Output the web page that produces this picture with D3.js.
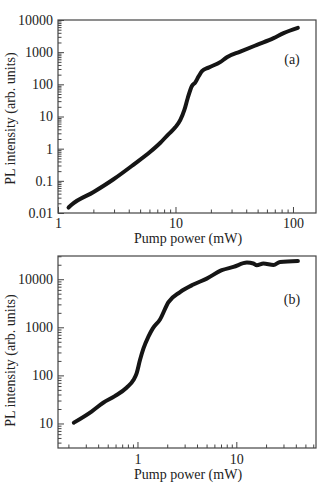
<!DOCTYPE html>
<html><head><meta charset="utf-8">
<script src="https://cdn.jsdelivr.net/npm/d3@7"></script>
<style>
html,body{margin:0;padding:0;background:#fff;}
svg{display:block;}
svg text{font-family:"Liberation Serif","Times New Roman",Times,"DejaVu Serif",serif !important;fill:#222;}
</style></head>
<body>
<script>
// Panel (a)
const aPower = [1.23,1.32,2.01,2.97,4.4,6.1,7.4,8.7,9.96,11,11.9,12.7,13.8,14.7,15.7,16.8,19.1,24,27.4,35.6,49.4,68.4,83.2,110];
const aIntensity = [0.0148,0.0187,0.045,0.112,0.32,0.8,1.5,2.8,4.6,7.8,16,37,89,113,174,257,331,490,697,1040,1690,2720,3900,5700];
const aYTicks = [0.01,0.1,1,10,100,1000,10000];
const aXTicks = [1,10,100];
// Panel (b)
const bPower = [0.227,0.343,0.45,0.59,0.78,0.91,0.98,1.06,1.15,1.29,1.43,1.69,2.05,2.7,3.68,5.02,7.13,9.35,12.8,14.9,16.1,18.8,23.8,27.8,42];
const bIntensity = [10.4,17.7,27,37,56,80,110,208,363,640,950,1450,3300,5400,7750,10300,15400,18000,22200,21200,19500,21200,19800,22900,24000];
const bYTicks = [10,100,1000,10000];
const bXTicks = [1,10];

const W = 332, H = 487;
const FONT = '"Liberation Serif","Times New Roman",Times,serif';
const svg = d3.select("body").append("svg").attr("width", W).attr("height", H).attr("font-family", FONT);

function panel(cfg){
  const g = svg.append("g");
  const x = d3.scaleLog().domain(cfg.xd).range([cfg.l, cfg.r]);
  const y = d3.scaleLog().domain(cfg.yd).range([cfg.b, cfg.t]);
  function minors(sc){
    const d = sc.domain(); const out=[];
    for(let e=Math.floor(Math.log10(d[0])); e<=Math.ceil(Math.log10(d[1])); e++){
      for(let m=1;m<10;m++){ const v=m*Math.pow(10,e); if(v>=d[0]*0.999 && v<=d[1]*1.001) out.push(v);}
    }
    return out;
  }
  const xm = minors(x), ym = minors(y);
  const isMajor = v => Math.abs(Math.log10(v)-Math.round(Math.log10(v)))<1e-6;

  const xg = g.append("g").attr("transform",`translate(0,${cfg.b})`).call(d3.axisBottom(x).tickValues(xm).tickSize(0).tickFormat(""));
  xg.select(".domain").remove();
  xg.selectAll(".tick line").attr("y2", d=>isMajor(d)?-6:-3.5).attr("stroke","#444").attr("stroke-width",1);
  const xl = g.append("g").attr("transform",`translate(0,${cfg.b})`).call(d3.axisBottom(x).tickValues(cfg.xt).tickSize(0).tickFormat(d3.format("~g")));
  xl.select(".domain").remove();
  xl.attr("font-family", FONT).attr("font-size", 14);
  xl.selectAll("text").attr("y", cfg.xty).attr("dy", null).attr("fill","#222");

  const yg = g.append("g").attr("transform",`translate(${cfg.l},0)`).call(d3.axisLeft(y).tickValues(ym).tickSize(0).tickFormat(""));
  yg.select(".domain").remove();
  yg.selectAll(".tick line").attr("x2", d=>isMajor(d)?6:3.5).attr("stroke","#444").attr("stroke-width",1);
  const yl = g.append("g").attr("transform",`translate(${cfg.l},0)`).call(d3.axisLeft(y).tickValues(cfg.yt).tickSize(0).tickPadding(5).tickFormat(d=>d<1?String(d):d3.format("d")(d)));
  yl.select(".domain").remove();
  yl.attr("font-family", FONT).attr("font-size", 14);
  yl.selectAll("text").attr("fill","#222");

  g.append("rect").attr("x",cfg.l).attr("y",cfg.t).attr("width",cfg.r-cfg.l).attr("height",cfg.b-cfg.t)
    .attr("fill","none").attr("stroke","#444").attr("stroke-width",1.2);

  const line = d3.line().x(d=>x(d[0])).y(d=>y(d[1])).curve(d3.curveMonotoneX);
  g.append("path").datum(d3.zip(cfg.px, cfg.py)).attr("d", line)
    .attr("fill","none").attr("stroke","#151515").attr("stroke-width",4).attr("stroke-linecap","round").attr("stroke-linejoin","round");

  g.append("text").attr("x",cfg.lx).attr("y",cfg.ly).attr("text-anchor","middle").attr("font-size",14).text(cfg.label);
  g.append("text").attr("x",cfg.xlx).attr("y",cfg.xly).attr("text-anchor","middle").attr("font-size",14).text("Pump power (mW)");
  g.append("text").attr("transform",`translate(${cfg.ylx},${cfg.yly}) rotate(-90)`).attr("text-anchor","middle").attr("font-size",14).text("PL intensity (arb. units)");
}

panel({xd:[1,157], yd:[0.01,10000], l:58, r:316, t:20, b:213, xt:aXTicks, yt:aYTicks, px:aPower, py:aIntensity,
  xty:15, label:"(a)", lx:292, ly:64, xlx:188, xly:243, ylx:14.5, yly:118.5});
panel({xd:[0.157,64], yd:[3.09,30400], l:58, r:316, t:256, b:448, xt:bXTicks, yt:bYTicks, px:bPower, py:bIntensity,
  xty:16, label:"(b)", lx:292, ly:304, xlx:188, xly:478.5, ylx:14.5, yly:360.5});
</script>
</body></html>
